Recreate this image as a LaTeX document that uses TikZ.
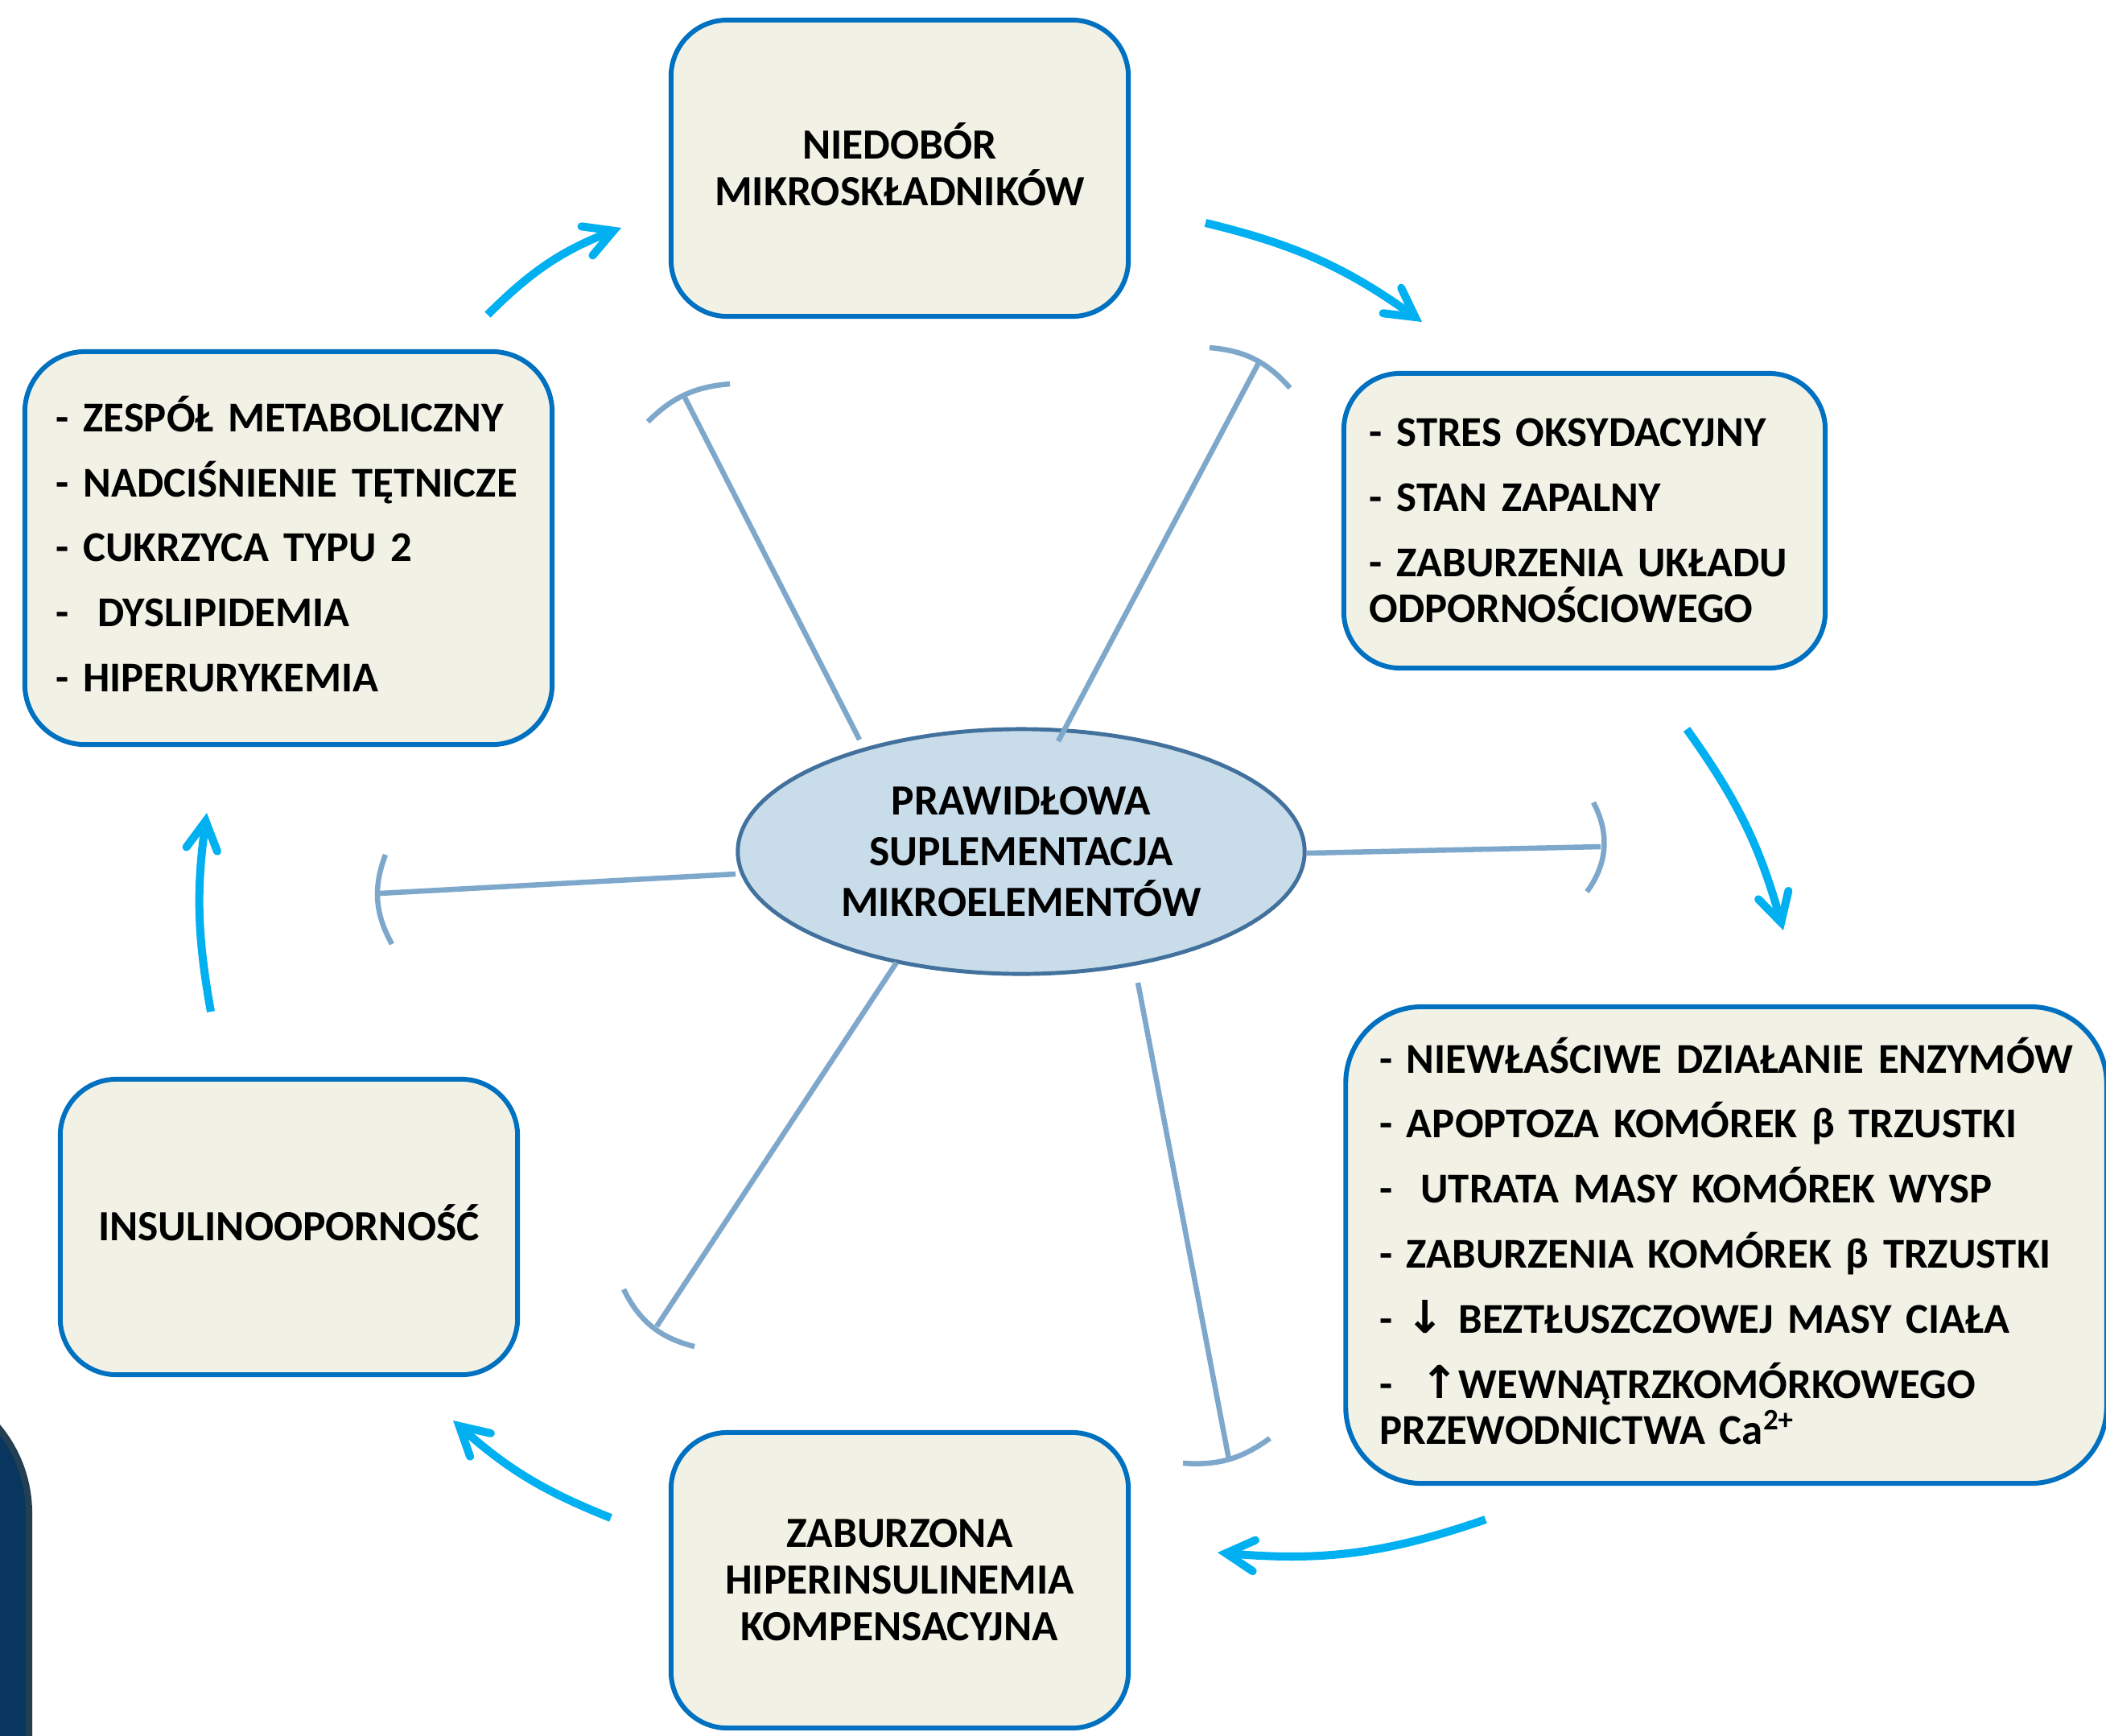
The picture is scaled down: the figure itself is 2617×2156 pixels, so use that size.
\documentclass[tikz,border=0pt]{standalone}
\usepackage{fontspec}
\setmainfont{Carlito}
\newfontfamily\symfont{DejaVu Sans}
\usetikzlibrary{arrows.meta,shapes.geometric,calc}
\definecolor{boxfill}{HTML}{F1F1E6}
\definecolor{boxline}{HTML}{0070C0}
\definecolor{ellfill}{HTML}{C9DCEA}
\definecolor{ellline}{HTML}{41719C}
\definecolor{cyanarrow}{HTML}{00B0F0}
\definecolor{inhib}{HTML}{7EA8CB}
\definecolor{darkfill}{HTML}{08365E}
\definecolor{darkline}{HTML}{243F52}
\newcommand{\arrowup}{{\symfont\fontsize{16pt}{16pt}\selectfont ↑}}
\newcommand{\arrowdown}{{\symfont\fontsize{16pt}{16pt}\selectfont ↓}}
\newcommand{\capline}[1]{\smash{#1}\vphantom{N}}
\begin{document}
\begin{tikzpicture}[x=0.01cm,y=-0.01cm,
  txt/.style={font=\fontsize{15pt}{16.3pt}\selectfont\bfseries, text=black},
  ctxt/.style={font=\fontsize{15.2pt}{16.5pt}\selectfont\bfseries, text=black},
  box/.style={draw=boxline, fill=boxfill, line width=1.7pt, rounded corners=0.7cm, inner sep=0pt},
  listbox/.style={box, txt, align=left},
  centerbox/.style={box, ctxt, align=center},
  supp/.style={ellipse, draw=ellline, fill=ellfill, line width=1.4pt, inner sep=0pt, align=center, minimum width=7.04cm, minimum height=3.04cm, font=\fontsize{15.2pt}{17.9pt}\selectfont\bfseries},
  cycle/.style={draw=cyanarrow, line width=2.85pt, -{Straight Barb[length=10pt,width=11pt,line cap=round,line join=miter]}},
  inh/.style={draw=inhib, line width=1.85pt},
  ]
\useasboundingbox (0,0) rectangle (2617,2156);
\fill[white] (0,0) rectangle (2617,2156);
\begin{scope}
\clip (0,0) rectangle (2617,2156);
% dark shape at lower left
\draw[fill=darkfill, draw=darkline, line width=2.3pt, rounded corners=1.67cm] (-400,1713) rectangle (36,2400);

% boxes
\node[centerbox, minimum width=5.68cm, minimum height=3.68cm] (niedobor) at (1118,209) {\capline{NIEDOBÓR}\\MIKROSKŁADNIKÓW};

\node[listbox, minimum width=6.55cm, minimum height=4.88cm, text width=5.77cm, inner xsep=0.39cm, rounded corners=0.75cm] (zespol) at (358.5,681)
{\capline{- ZESPÓŁ METABOLICZNY}\\[6.7pt]- NADCIŚNIENIE TĘTNICZE\\[6.7pt]- CUKRZYCA TYPU 2\\[6.7pt]-\ \ DYSLIPIDEMIA\\[6.7pt]- HIPERURYKEMIA};

\node[listbox, minimum width=5.98cm, minimum height=3.66cm, text width=5.34cm, inner xsep=0.32cm] (stres) at (1969,647)
{\mbox{- STRES OKSYDACYJNY}\\[6.7pt]- STAN ZAPALNY\\[6.7pt]\mbox{- ZABURZENIA UKŁADU}\\ODPORNOŚCIOWEGO};

\node[listbox, minimum width=9.45cm, minimum height=5.92cm, text width=8.61cm, inner xsep=0.42cm, rounded corners=0.95cm] (enzymy) at (2145,1547)
{\capline{- NIEWŁAŚCIWE DZIAŁANIE ENZYMÓW}\\[6.7pt]\mbox{- APOPTOZA KOMÓREK β TRZUSTKI}\\[6.7pt]\mbox{-\ \ UTRATA MASY KOMÓREK WYSP}\\[6.7pt]\mbox{- ZABURZENIA KOMÓREK β TRZUSTKI}\\[6.7pt]\mbox{- \arrowdown{} BEZTŁUSZCZOWEJ MASY CIAŁA}\\[6.7pt]\mbox{-\ \ \arrowup WEWNĄTRZKOMÓRKOWEGO}\\\mbox{PRZEWODNICTWA Ca\textsuperscript{2+}}};

\node[centerbox, minimum width=5.68cm, minimum height=3.67cm] (insulino) at (359,1524.5) {\capline{INSULINOOPORNOŚĆ}};

\node[centerbox, minimum width=5.68cm, minimum height=3.67cm] (hiper) at (1118,1963.5) {ZABURZONA\\HIPERINSULINEMIA\\KOMPENSACYJNA};

\node[supp] (supl) at (1269,1058) {PRAWIDŁOWA\\SUPLEMENTACJA\\MIKROELEMENTÓW};

% cycle arrows
\coordinate (c1s) at (606,391);  \coordinate (c1e) at (772,283);
\coordinate (c2s) at (1498,277); \coordinate (c2e) at (1767,400);
\coordinate (c3s) at (2096,906); \coordinate (c3e) at (2216,1156);
\coordinate (c4s) at (1846,1888); \coordinate (c4e) at (1513,1929);
\coordinate (c5s) at (759,1886); \coordinate (c5e) at (563,1765);
\coordinate (c6s) at (262,1257); \coordinate (c6e) at (257,1010);
\draw[cycle] (c1s) to[bend left=12] (c1e);
\draw[cycle] (c2s) to[bend left=11] (c2e);
\draw[cycle] (c3s) to[bend left=10] (c3e);
\draw[cycle] (c4s) to[bend left=12] (c4e);
\draw[cycle] (c5s) to[bend left=10] (c5e);
\draw[cycle] (c6s) to[bend left=9] (c6e);

% inhibition lines
\coordinate (s1) at (1068,919);  \coordinate (e1) at (849,490);
\coordinate (s2) at (1315,921);  \coordinate (e2) at (1565,449);
\coordinate (s3) at (1624,1060); \coordinate (e3) at (1989,1052);
\coordinate (s4) at (914,1086);  \coordinate (e4) at (472,1110);
\coordinate (s5) at (1114,1196); \coordinate (e5) at (816,1648);
\coordinate (s6) at (1414,1221); \coordinate (e6) at (1527,1813);
\coordinate (a1s) at (805,524);  \coordinate (a1e) at (907,477);
\coordinate (a2s) at (1503,432); \coordinate (a2e) at (1603,482);
\coordinate (a3s) at (1980,997); \coordinate (a3e) at (1972,1108);
\coordinate (a4s) at (487,1173); \coordinate (a4e) at (479,1062);
\coordinate (a5s) at (863,1673); \coordinate (a5e) at (775,1602);
\coordinate (a6s) at (1578,1787); \coordinate (a6e) at (1470,1818);
\draw[inh] (s1) -- (e1);
\draw[inh] (s2) -- (e2);
\draw[inh] (s3) -- (e3);
\draw[inh] (s4) -- (e4);
\draw[inh] (s5) -- (e5);
\draw[inh] (s6) -- (e6);
\draw[inh] (a1s) to[bend left=20] (a1e);
\draw[inh] (a2s) to[bend left=22] (a2e);
\draw[inh] (a3s) to[bend left=32] (a3e);
\draw[inh] (a4s) to[bend left=25] (a4e);
\draw[inh] (a5s) to[bend left=25] (a5e);
\draw[inh] (a6s) to[bend left=20] (a6e);
\end{scope}
\end{tikzpicture}
\end{document}
